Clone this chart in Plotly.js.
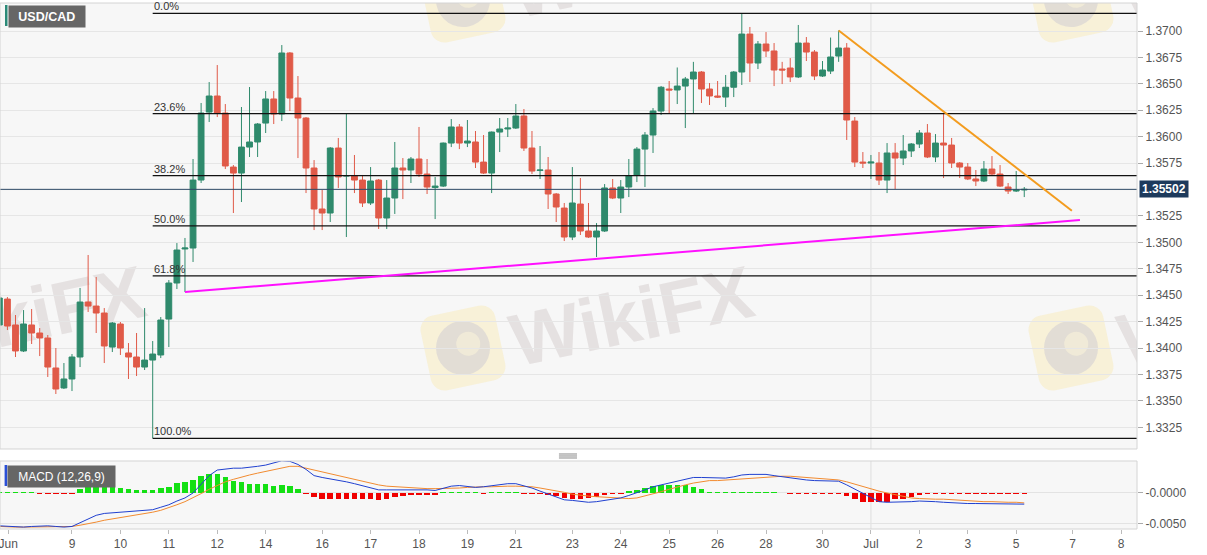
<!DOCTYPE html>
<html><head><meta charset="utf-8">
<script src="https://cdn.plot.ly/plotly-3.0.1.min.js"></script>
<style>html,body{margin:0;padding:0;background:#fff;}#chart{width:1207px;height:555px;}</style>
</head><body><div id="chart"></div>
<script>
// ---------- DATA (4H candles USD/CAD, index 0 = first candle of 9 June) ----------
const firstCandle = -9;
const open = [1.34219,1.34464,1.34219,1.33973,1.34219,1.34143,1.34096,1.33812,1.33623,
1.33708,1.33916,1.34436,1.34398,1.34332,1.34010,1.34228,1.33954,1.33916,1.33821,
1.33887,1.33935,1.34275,1.34616,1.34938,1.34947,1.35590,1.36233,1.36385,1.36224,
1.35713,1.35656,1.35902,1.35950,1.36129,1.36357,1.36215,1.36792,1.36366,1.36177,
1.35704,1.35316,1.35278,1.35893,1.35628,1.35628,1.35590,1.35373,1.35590,1.35231,
1.35420,1.35704,1.35685,1.35789,1.35647,1.35519,1.35533,1.35940,1.36092,1.35940,
1.35950,1.35760,1.35656,1.36044,1.36073,1.36082,1.36196,1.35893,1.35680,1.35685,
1.35458,1.35325,1.35051,1.35363,1.35108,1.35051,1.35108,1.35515,1.35420,1.35524,
1.35638,1.35883,1.36016,1.36243,1.36451,1.36442,1.36479,1.36546,1.36612,1.36451,
1.36385,1.36375,1.36468,1.36612,1.36971,1.36697,1.36877,1.36811,1.36640,1.36650,
1.36565,1.36886,1.36801,1.36574,1.36621,1.36763,1.36839,1.36148,1.35760,1.35751,
1.35751,1.35590,1.35846,1.35798,1.35865,1.35931,1.36035,1.35808,1.35940,1.35921,
1.35751,1.35713,1.35600,1.35581,1.35694,1.35647,1.35524,1.35486,1.35496];
const high = [1.34531,1.34483,1.34313,1.34360,1.34370,1.34190,1.34124,1.34001,1.33859,
1.33944,1.34569,1.34881,1.34673,1.34379,1.34247,1.34247,1.34048,1.34143,1.34379,
1.34067,1.34294,1.34644,1.34994,1.35042,1.35789,1.36319,1.36517,1.36678,1.36309,
1.35732,1.36281,1.36470,1.36129,1.36432,1.36432,1.36867,1.36801,1.36574,1.36186,
1.35779,1.35496,1.35902,1.35988,1.36224,1.35827,1.35638,1.35713,1.35600,1.35590,
1.35950,1.35798,1.35808,1.36092,1.35789,1.35619,1.35945,1.36167,1.36120,1.36158,
1.36054,1.36016,1.36049,1.36177,1.36177,1.36309,1.36262,1.36054,1.35912,1.35808,
1.35467,1.35373,1.35713,1.35609,1.35373,1.35183,1.35552,1.35600,1.35590,1.35789,
1.35902,1.36044,1.36271,1.36480,1.36527,1.36655,1.36565,1.36708,1.36621,1.36508,
1.36527,1.36584,1.36621,1.37167,1.37038,1.36905,1.36990,1.36886,1.36708,1.36744,
1.37057,1.36943,1.36820,1.36716,1.36938,1.37005,1.36886,1.36186,1.35855,1.35827,
1.35855,1.35940,1.35940,1.36016,1.35940,1.36063,1.36120,1.36025,1.36224,1.35988,
1.35760,1.35751,1.35685,1.35770,1.35817,1.35732,1.35562,1.35675,1.35524];
const low = [1.34152,1.34171,1.33916,1.33963,1.34039,1.33925,1.33727,1.33566,1.33613,
1.33594,1.33821,1.34342,1.34143,1.33859,1.33963,1.33935,1.33708,1.33736,1.33793,
1.33147,1.33906,1.34010,1.34559,1.34531,1.34815,1.35562,1.36139,1.36186,1.35694,
1.35278,1.35382,1.35808,1.35808,1.36035,1.36120,1.36148,1.36243,1.35798,1.35467,
1.35117,1.35117,1.35193,1.35515,1.35051,1.35467,1.35335,1.35354,1.35127,1.35127,
1.35269,1.35410,1.35562,1.35619,1.35458,1.35221,1.35524,1.35902,1.35883,1.35902,
1.35704,1.35647,1.35467,1.35855,1.35997,1.36073,1.35865,1.35647,1.35600,1.35316,
1.35193,1.35013,1.35022,1.35070,1.35042,1.34862,1.35099,1.35410,1.35278,1.35429,
1.35571,1.35524,1.35846,1.36205,1.36215,1.36309,1.36082,1.36224,1.36319,1.36300,
1.36366,1.36281,1.36375,1.36489,1.36517,1.36640,1.36754,1.36479,1.36498,1.36517,
1.36555,1.36716,1.36536,1.36565,1.36593,1.36708,1.35969,1.35713,1.35704,1.35600,
1.35543,1.35467,1.35505,1.35732,1.35808,1.35893,1.35798,1.35760,1.35609,1.35704,
1.35609,1.35590,1.35533,1.35571,1.35628,1.35524,1.35458,1.35477,1.35429];
const close = [1.34474,1.34209,1.33973,1.34228,1.34143,1.34096,1.33821,1.33613,1.33708,
1.33916,1.34436,1.34398,1.34332,1.34020,1.34237,1.34001,1.33916,1.33821,1.33887,
1.33944,1.34266,1.34616,1.34928,1.34947,1.35590,1.36224,1.36385,1.36224,1.35723,
1.35656,1.35902,1.35950,1.36120,1.36357,1.36215,1.36792,1.36366,1.36177,1.35704,
1.35316,1.35278,1.35893,1.35619,1.35632,1.35590,1.35373,1.35581,1.35231,1.35420,
1.35704,1.35685,1.35789,1.35647,1.35524,1.35533,1.35940,1.36092,1.35940,1.35959,
1.35760,1.35656,1.36044,1.36073,1.36082,1.36196,1.35893,1.35675,1.35685,1.35458,
1.35335,1.35051,1.35373,1.35108,1.35051,1.35108,1.35515,1.35420,1.35524,1.35628,
1.35883,1.36016,1.36243,1.36468,1.36442,1.36479,1.36546,1.36612,1.36451,1.36385,
1.36375,1.36468,1.36612,1.36971,1.36697,1.36877,1.36811,1.36631,1.36631,1.36565,
1.36886,1.36801,1.36574,1.36631,1.36754,1.36839,1.36158,1.35760,1.35751,1.35760,
1.35590,1.35846,1.35798,1.35865,1.35931,1.36035,1.35808,1.35940,1.35921,1.35751,
1.35713,1.35600,1.35581,1.35694,1.35647,1.35533,1.35486,1.35496,1.35502];

// MACD (12,26,9)
const macdLine = [-0.0053,-0.0054,-0.0055,-0.0055,-0.0054,-0.0053,-0.0053,-0.0054,-0.0055,
-0.0054,-0.0048,-0.0041,-0.0036,-0.0033,-0.0032,-0.0031,-0.0031,-0.0030,-0.0029,
-0.0027,-0.0023,-0.0019,-0.0013,-0.0008,0.0000,0.0014,0.0028,0.0037,0.0039,
0.0040,0.0040,0.0041,0.0043,0.0045,0.0049,0.0052,0.0051,0.0046,0.0038,
0.0028,0.0025,0.0023,0.0021,0.0018,0.0015,0.0012,0.0008,0.0005,0.0005,
0.0005,0.0006,0.0006,0.0006,0.0005,0.0004,0.0007,0.0011,0.0012,0.0010,
0.0009,0.0010,0.0012,0.0014,0.0015,0.0015,0.0012,0.0008,0.0003,-0.0002,
-0.0007,-0.0011,-0.0012,-0.0014,-0.0015,-0.0014,-0.0012,-0.0010,-0.0008,-0.0004,
0.0000,0.0005,0.0010,0.0013,0.0016,0.0018,0.0021,0.0025,0.0025,0.0025,
0.0024,0.0024,0.0026,0.0029,0.0030,0.0030,0.0030,0.0028,0.0026,0.0024,
0.0022,0.0021,0.0020,0.0020,0.0019,0.0019,0.0013,0.0006,0.0000,-0.0007,
-0.0014,-0.0015,-0.0015,-0.0014,-0.0014,-0.0013,-0.0013,-0.0014,-0.0015,-0.0016,
-0.0017,-0.0017,-0.0017,-0.0017,-0.0017,-0.0017,-0.0018,-0.0018,-0.0018];
const signalLine = [-0.0054,-0.0055,-0.0055,-0.0055,-0.0055,-0.0055,-0.0055,-0.0055,-0.0055,
-0.0054,-0.0052,-0.0050,-0.0047,-0.0044,-0.0042,-0.0040,-0.0038,-0.0036,-0.0033,
-0.0031,-0.0028,-0.0024,-0.0019,-0.0014,-0.0008,-0.0001,0.0006,0.0012,0.0018,
0.0022,0.0026,0.0029,0.0032,0.0035,0.0038,0.0041,0.0043,0.0043,0.0040,
0.0036,0.0033,0.0030,0.0027,0.0024,0.0022,0.0019,0.0016,0.0013,0.0011,
0.0010,0.0009,0.0008,0.0008,0.0007,0.0007,0.0007,0.0008,0.0008,0.0009,
0.0010,0.0010,0.0010,0.0011,0.0011,0.0011,0.0011,0.0010,0.0008,0.0006,
0.0004,0.0001,-0.0002,-0.0004,-0.0005,-0.0006,-0.0007,-0.0008,-0.0008,-0.0009,
-0.0008,-0.0005,-0.0001,0.0002,0.0006,0.0010,0.0013,0.0016,0.0018,0.0020,
0.0020,0.0021,0.0022,0.0023,0.0024,0.0025,0.0026,0.0027,0.0027,0.0027,
0.0026,0.0026,0.0025,0.0024,0.0023,0.0021,0.0018,0.0014,0.0010,0.0007,
0.0003,0.0000,-0.0003,-0.0006,-0.0008,-0.0009,-0.0010,-0.0010,-0.0010,-0.0011,
-0.0012,-0.0012,-0.0013,-0.0014,-0.0014,-0.0015,-0.0015,-0.0015,-0.0016];
const macdHist = [0.00012,0.00012,0.00012,0.00012,0.00012,-0.00012,-0.00012,-0.00012,-0.00012,
-0.00012,0.0006,0.0011,0.0011,0.0011,0.0010,0.0008,0.0006,0.0005,0.0005,
0.0005,0.0008,0.0010,0.0016,0.0017,0.0021,0.0027,0.0031,0.0031,0.0025,
0.0019,0.0017,0.0015,0.0015,0.0014,0.0012,0.0013,0.0012,0.0006,-0.00012,
-0.0006,-0.0010,-0.0010,-0.0010,-0.0010,-0.0010,-0.0010,-0.0010,-0.0011,-0.0010,
-0.0007,-0.0005,-0.0004,-0.0003,-0.0003,-0.0003,0.00012,0.00012,0.00012,0.00015,
0.00012,-0.00012,0.00012,0.00012,0.00012,0.00018,-0.00015,-0.00015,-0.0002,-0.0004,
-0.0005,-0.0008,-0.0010,-0.0010,-0.0008,-0.0006,-0.0004,-0.0002,-0.00015,0.0003,
0.0005,0.0008,0.0011,0.0013,0.0013,0.0013,0.0013,0.0009,0.0006,0.0002,
0.00015,0.00015,0.00015,0.00015,0.00015,0.00015,0.00015,0.00015,0,-0.00012,
-0.00012,-0.00012,-0.00012,-0.00012,-0.00012,-0.00012,-0.0005,-0.0010,-0.0014,-0.0015,
-0.0014,-0.0014,-0.0010,-0.0009,-0.0006,-0.0004,-0.00016,-0.00016,-0.00016,-0.00016,
-0.00016,-0.00016,-0.00016,-0.00016,-0.00016,-0.00016,-0.00016,-0.00016,-0.00016];

// Day labels on the time axis (candle index of first candle of the day)
const tickPos  = [-7.9,0,6,12,18,24,31,37,43,49,55,62,68,74,80,86,93,99,105,111,117,124,130];
const tickText = ['Jun','9','10','11','12','14','16','17','18','19','21','23','24','25','26','28','30','Jul','2','3','5','7','8'];
// Price axis labels (1.3550 sits under the last-price tag)
const priceTicks = [1.3325,1.3350,1.3375,1.3400,1.3425,1.3450,1.3475,1.3500,1.3525,1.3575,1.3600,1.3625,1.3650,1.3675,1.3700];
const priceGrid = [1.3325,1.3350,1.3375,1.3400,1.3425,1.3450,1.3475,1.3500,1.3525,1.3550,1.3575,1.3600,1.3625,1.3650,1.3675,1.3700];

// Drawing tools
const fibStartCandle = 10;
const fibHigh = 1.37167, fibLow = 1.33147;
const fibRatios = [0, 0.236, 0.382, 0.5, 0.618, 1];
const fibLabels = ['0.0%','23.6%','38.2%','50.0%','61.8%','100.0%'];
const resistanceX = [95, 123.9], resistanceY = [1.37005, 1.35300];
const supportX = [14, 124.9], supportY = [1.34531, 1.35212];
const lastPrice = 1.35502;
const julyCandle = 99;

// ---------- CHART ----------
const x = open.map((_, i) => firstCandle + i);
const G = '#2f8a6c', R = '#e05a48';
const xMin = -8.92, xMax = 131.97;
const yMin = 1.330457, yMax = 1.372649;
const FONT = 'Arial, "Liberation Sans", sans-serif';

const traces = [
  {type:'candlestick', x:x, open:open, high:high, low:low, close:close,
   xaxis:'x', yaxis:'y', whiskerwidth:0, hoverinfo:'skip',
   increasing:{line:{color:G, width:1}, fillcolor:G},
   decreasing:{line:{color:R, width:1}, fillcolor:R}},
  {type:'bar', x:x, y:macdHist, xaxis:'x', yaxis:'y2', width:0.68,
   marker:{color: macdHist.map(v => v >= 0 ? '#14e014' : '#f00000'), line:{width:0}}, hoverinfo:'skip'},
  {type:'scatter', mode:'lines', x:x, y:signalLine, xaxis:'x', yaxis:'y2',
   line:{color:'#f28b30', width:1}, hoverinfo:'skip'},
  {type:'scatter', mode:'lines', x:x, y:macdLine, xaxis:'x', yaxis:'y2',
   line:{color:'#2040d0', width:1}, hoverinfo:'skip'}
];

const shapes = [];
const annotations = [];
// gridline that the hidden 1.3550 label would carry
priceGrid.filter(v => priceTicks.indexOf(v) < 0).forEach(v => shapes.push({type:'line', xref:'paper', yref:'y',
  x0:0, x1:1, y0:v, y1:v, layer:'below', line:{color:'#e6e6e6', width:1}}));
fibRatios.forEach((r, i) => {
  const lvl = fibHigh - r * (fibHigh - fibLow);
  shapes.push({type:'line', xref:'x', yref:'y', x0:fibStartCandle, x1:xMax, y0:lvl, y1:lvl,
    line:{color:'#111', width:1.2}});
  annotations.push({xref:'x', yref:'y', x:fibStartCandle, y:lvl, xanchor:'left', yanchor:'bottom',
    text:fibLabels[i], showarrow:false, font:{size:11, color:'#333', family:FONT}, xshift:-1, yshift:-1});
});
// current price line
shapes.push({type:'line', xref:'x', yref:'y', x0:xMin, x1:xMax, y0:lastPrice, y1:lastPrice,
  line:{color:'#2e4a66', width:1}});
// trend lines
shapes.push({type:'line', xref:'x', yref:'y', x0:resistanceX[0], x1:resistanceX[1], y0:resistanceY[0], y1:resistanceY[1],
  line:{color:'#f39c1f', width:2}});
shapes.push({type:'line', xref:'x', yref:'y', x0:supportX[0], x1:supportX[1], y0:supportY[0], y1:supportY[1],
  line:{color:'#ff10ff', width:2}});
// month separator
shapes.push({type:'line', xref:'x', yref:'y domain', x0:julyCandle, x1:julyCandle, y0:0, y1:1, layer:'below',
  line:{color:'#dedede', width:1}});
shapes.push({type:'line', xref:'x', yref:'y2 domain', x0:julyCandle, x1:julyCandle, y0:0, y1:1, layer:'below',
  line:{color:'#dedede', width:1}});
// panel borders
shapes.push({type:'rect', xref:'paper', yref:'y domain', x0:0, x1:1, y0:0, y1:1,
  line:{color:'#d4d4d4', width:1}, fillcolor:'rgba(0,0,0,0)'});
shapes.push({type:'rect', xref:'paper', yref:'y2 domain', x0:0, x1:1, y0:0, y1:1,
  line:{color:'#d4d4d4', width:1}, fillcolor:'rgba(0,0,0,0)'});
// panel splitter handle
[0.1426, 0.1388, 0.1350].forEach(py => shapes.push({type:'line', xref:'paper', yref:'paper',
  x0:0.4916, x1:0.5075, y0:py, y1:py, line:{color:'#8a8a8a', width:1}}));
// label strips
shapes.push({type:'rect', xref:'paper', yref:'paper', x0:5/1137, x1:7.5/1137, y0:0.9563, y1:0.9962,
  line:{width:0}, fillcolor:'#2b8a78'});
shapes.push({type:'rect', xref:'paper', yref:'paper', x0:4.6/1137, x1:7.2/1137, y0:0.0818, y1:0.1217,
  line:{width:0}, fillcolor:'#2a4fd6'});

annotations.push({xref:'paper', yref:'paper', x:7.5/1137, y:0.9962, xanchor:'left', yanchor:'top',
  text:'<b>USD/CAD</b>', showarrow:false, bgcolor:'#666666', width:71.5, height:17, borderpad:2,
  align:'center', font:{size:12.5, color:'#fff', family:FONT}});
annotations.push({xref:'paper', yref:'paper', x:7.2/1137, y:0.1217, xanchor:'left', yanchor:'top',
  text:'MACD (12,26,9)', showarrow:false, bgcolor:'#666666', width:103, height:17, borderpad:2,
  align:'center', font:{size:12, color:'#fff', family:FONT}});
annotations.push({xref:'paper', yref:'y', x:1, y:lastPrice, xanchor:'left', yanchor:'middle', xshift:2,
  text:'<b>'+lastPrice.toFixed(5)+'</b>', showarrow:false, bgcolor:'#1d3a5c', borderpad:2, height:12,
  font:{size:12, color:'#fff', family:FONT}});

// watermark (decorative, drawn beneath the candles)
function watermark(){
  let s = '<svg xmlns="http://www.w3.org/2000/svg" width="1137" height="446" viewBox="0 0 1137 446">';
  for (let i=-1;i<=1;i++) for (let j=-1;j<=0;j++){
    const ix = 463 + 608*i, iy = 345 + 348*j;
    s += '<g transform="translate('+ix+','+iy+') rotate(-12)"><rect x="-38" y="-38" width="76" height="76" rx="14" fill="#f8eecb" fill-opacity="0.7"/><circle r="27" fill="#d9d4d4" fill-opacity="0.7"/><circle r="12" cx="6" cy="-3" fill="#f4eed8" fill-opacity="0.8"/></g>';
    const tx = 633 + 608*i, ty = 319 + 348*j;
    s += '<text x="'+tx+'" y="'+ty+'" transform="rotate(-12 '+tx+' '+ty+')" text-anchor="middle" dominant-baseline="middle" font-family="Liberation Sans, Arial, sans-serif" font-weight="bold" font-size="74" fill="#e5e1e1">WikiFX</text>';
  }
  s += '</svg>';
  return 'data:image/svg+xml;charset=utf-8,' + encodeURIComponent(s);
}

const layout = {
  width:1207, height:555, margin:{l:0, r:70, t:3, b:26},
  paper_bgcolor:'#ffffff', plot_bgcolor:'#f7f7f7', showlegend:false, hovermode:false,
  font:{family:FONT, size:12, color:'#555'},
  boxgap:0.2, boxgroupgap:0.1, bargap:0,
  xaxis:{range:[xMin, xMax], anchor:'y2', tickmode:'array', tickvals:tickPos, ticktext:tickText,
    ticks:'outside', ticklen:4, tickcolor:'#bbbbbb', showgrid:false, zeroline:false, showline:false,
    ticklabeloverflow:'allow', tickfont:{size:12, color:'#555'}, rangeslider:{visible:false}, fixedrange:true},
  yaxis:{domain:[0.1521, 1], side:'right', anchor:'x', range:[yMin, yMax], tickmode:'array', tickvals:priceTicks,
    ticktext:priceTicks.map(v => v.toFixed(4)), showgrid:true, gridcolor:'#e6e6e6', ticks:'outside', ticklen:5, tickcolor:'#aaaaaa',
    zeroline:false, showline:false, tickfont:{size:12, color:'#555'}, fixedrange:true},
  yaxis2:{domain:[0, 0.1293], side:'right', anchor:'x', range:[-0.00581, 0.00516], tickmode:'array',
    tickvals:[0, -0.005], ticktext:['-0.0000','-0.0050'], showgrid:true, gridcolor:'#e3e3e3',
    ticks:'outside', ticklen:5, tickcolor:'#aaaaaa', zeroline:false, showline:false,
    tickfont:{size:12, color:'#555'}, fixedrange:true},
  shapes:shapes, annotations:annotations,
  images:[{source:watermark(), xref:'x', yref:'y', x:xMin, y:yMax, sizex:xMax-xMin, sizey:yMax-yMin,
    sizing:'stretch', xanchor:'left', yanchor:'top', layer:'below'}]
};
Plotly.newPlot('chart', traces, layout, {staticPlot:true, displayModeBar:false});
</script></body></html>
